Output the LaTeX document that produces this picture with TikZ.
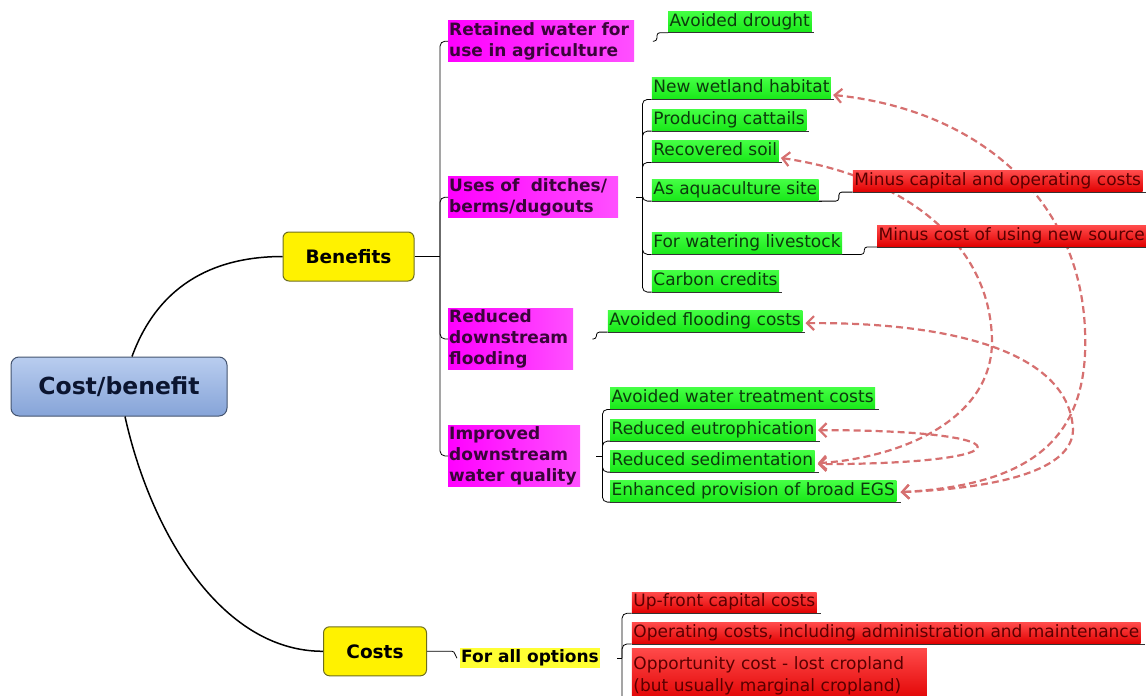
\documentclass[tikz,border=0pt]{standalone}
\usepackage{fontspec}
\setmainfont{DejaVu Sans}
\usetikzlibrary{arrows.meta,calc}
\definecolor{gtext}{HTML}{0C3B0C}
\definecolor{gtop}{HTML}{44FF44}
\definecolor{gbot}{HTML}{18E818}
\definecolor{mtext}{HTML}{3A053A}
\definecolor{mleft}{HTML}{FF00FF}
\definecolor{mright}{HTML}{FF50FF}
\definecolor{rtext}{HTML}{5A0000}
\definecolor{rtop}{HTML}{FF4A4A}
\definecolor{rmid}{HTML}{FF0808}
\definecolor{rbot}{HTML}{E00000}
\definecolor{ybord}{HTML}{6E6E20}
\definecolor{rootbord}{HTML}{44546F}
\definecolor{roottop}{HTML}{B9CDEF}
\definecolor{rootbot}{HTML}{86A4D8}
\definecolor{roottext}{HTML}{0B1530}
\definecolor{relc}{RGB}{214,112,112}
\definecolor{ulc}{HTML}{333333}
\pgfdeclarelayer{bg}
\pgfsetlayers{bg,main}
\tikzset{
  conn/.style={draw=black, line width=0.8pt},
  main/.style={draw=black, line width=1.5pt},
  uline/.style={draw=ulc, line width=0.8pt},
  rootbox/.style={draw=rootbord, line width=1pt, rounded corners=8pt, top color=roottop, bottom color=rootbot,
    minimum width=216pt, minimum height=59pt, text=roottext, font=\bfseries\fontsize{23.5}{26}\selectfont},
  ybox/.style={draw=ybord, line width=1pt, rounded corners=6pt, fill=yellow, text=black,
    font=\bfseries\fontsize{18.5}{21}\selectfont},
  yhl/.style={anchor=north west, fill={rgb,255:red,255;green,255;blue,51}, text=black, inner xsep=1pt, inner ysep=0pt,
    minimum height=20pt, text height=12.9pt, text depth=4.1pt, font=\bfseries\fontsize{17}{20}\selectfont},
  mbox/.style={anchor=north west, align=left, left color=mleft, right color=mright, text=mtext,
    inner xsep=1pt, inner ysep=1.5pt, font=\bfseries\fontsize{17}{21}\selectfont},
  gbox/.style={anchor=north west, top color=gtop, bottom color=gbot, text=gtext, inner xsep=1.5pt, inner ysep=0pt,
    minimum height=21.5pt, text height=12.9pt, text depth=4.1pt, font=\fontsize{17}{20}\selectfont},
  rbase/.style={anchor=north west, top color=rtop, middle color=rmid, bottom color=rbot, text=rtext, inner xsep=1.5pt},
  rbox/.style={rbase, inner ysep=0pt, minimum height=21pt, text height=12.9pt, text depth=4.1pt, font=\fontsize{17}{20}\selectfont},
  rel/.style={draw=relc, line width=2.2pt, dash pattern=on 7pt off 4pt,
    {Straight Barb[length=7pt,width=14pt]}-{Straight Barb[length=7pt,width=14pt]}},
}
\begin{document}
\begin{tikzpicture}[x=1pt,y=-1pt]
\useasboundingbox (0,0) rectangle (1146,696);
\clip (0,0) rectangle (1146,696);

% central and main branches
\node[rootbox] (root) at (119,386.5) {Cost/benefit};
\node[ybox, minimum width=131pt, minimum height=49pt] (ben) at (348.5,256.5) {Benefits};
\node[ybox, minimum width=103pt, minimum height=49pt] (costs) at (375,651.3) {Costs};
\draw[main] ([xshift=13pt]root.north) .. controls (160,280) and (220,256.5) .. (ben.west);
\draw[main] ([xshift=6pt]root.south) .. controls (150,530) and (220,651.3) .. (costs.west);

% benefits categories
\node[mbox, text width=184pt] (ret) at (448,20.7) {Retained water for\\use in agriculture};
\node[mbox, text width=168pt] (uses) at (448,176.7) {Uses of~ ditches/\\berms/dugouts};
\node[mbox, text width=123pt] (flood) at (448,308) {Reduced\\downstream\\flooding};
\node[mbox, text width=130pt] (imp) at (448,425) {Improved\\downstream\\water\ quality};

\coordinate (bk1) at (440,256.5);
\draw[conn] (ben.east) -- (bk1);
\foreach \c in {ret,uses,flood,imp}{
  \draw[conn, rounded corners=5pt] (bk1) |- (\c.west);
}

% retained water
\node[gbox] (drought) at (668,10.8) {Avoided drought};
\draw[uline] (drought.south west) -- ([xshift=3pt]drought.south east);
\draw[conn, rounded corners=3pt] ([xshift=18.5pt]ret.east) -- ++(4,0) |- (drought.south west);

% uses
\node[gbox] (wet) at (651.7,77.5) {New wetland habitat};
\node[gbox] (cat) at (651.7,109.2) {Producing cattails};
\node[gbox] (soil) at (651.7,140.5) {Recovered soil};
\node[gbox] (aqua) at (651.7,179.2) {As aquaculture site};
\node[gbox] (live) at (651.7,232.5) {For watering livestock};
\node[gbox] (carb) at (651.7,270.2) {Carbon credits};
\path (uses.east) ++(24,0) coordinate (bk2);
\draw[conn] ([xshift=18pt]uses.east) -- (bk2);
\foreach \c in {wet,cat,soil,aqua,live,carb}{
  \draw[uline] (\c.south west) -- ([xshift=3pt]\c.south east);
  \draw[conn, rounded corners=5pt] (bk2) |- (\c.south west);
}

\node[rbox] (mcap) at (852.7,170.7) {Minus capital and operating costs};
\node[rbox] (mcost) at (877,225.5) {Minus cost of using new source};
\draw[uline] (mcap.south west) -- ([xshift=6pt]mcap.south east);
\draw[uline] (mcost.south west) -- ([xshift=6pt]mcost.south east);
\draw[conn, rounded corners=3pt] (aqua.south east) -- ++(20,0) |- (mcap.south west);
\draw[conn, rounded corners=3pt] (live.south east) -- ++(22,0) |- (mcost.south west);

% flooding
\node[gbox] (afc) at (607.7,310.2) {Avoided flooding costs};
\draw[uline] (afc.south west) -- ([xshift=3pt]afc.south east);
\draw[conn, rounded corners=3pt] ([xshift=19pt]flood.east) -- ++(4,0) |- (afc.south west);

% water quality
\node[gbox] (awt) at (610,387.5) {Avoided water treatment costs};
\node[gbox] (eut) at (610,419.2) {Reduced eutrophication};
\node[gbox] (sed) at (610,450.2) {Reduced sedimentation};
\node[gbox] (egs) at (610,480.2) {Enhanced provision of broad EGS};
\path (imp.east) ++(22,0) coordinate (bk3);
\draw[conn] ([xshift=16pt]imp.east) -- (bk3);
\foreach \c in {awt,eut,sed,egs}{
  \draw[uline] (\c.south west) -- ([xshift=4pt]\c.south east);
  \draw[conn, rounded corners=5pt] (bk3) |- (\c.south west);
}

% costs
\node[yhl] (opts) at (460,648) {For all options};
\draw[conn] (costs.east) -- ++(25,0) to[out=0,in=135] ([xshift=-3pt]opts.west);
\node[rbox] (upf) at (631.7,591.8) {Up-front capital costs};
\node[rbox] (oper) at (631.7,622.5) {Operating costs, including administration and maintenance};
\node[rbase, align=left, text width=292pt, inner ysep=8pt,
  font=\fontsize{17}{22}\selectfont] (opp) at (631.7,648) {Opportunity cost - lost cropland\\(but usually marginal cropland)};
\path (opts.east) ++(22,0) coordinate (bk4);
\draw[conn] ([xshift=17pt]opts.east) -- (bk4);
\foreach \c in {upf,oper,opp}{
  \draw[uline] (\c.south west) -- ([xshift=4pt]\c.south east);
  \draw[conn, rounded corners=5pt] (bk4) |- (\c.south west);
}

% relationships
\coordinate (tw) at ($(wet.east)+(2,6.5)$);
\coordinate (ts) at ($(soil.east)+(2,6.5)$);
\coordinate (tf) at ($(afc.east)+(3,2)$);
\coordinate (teu) at ($(eut.east)+(2,0)$);
\coordinate (tsd) at ($(sed.east)+(3,2)$);
\coordinate (tsd2) at ($(sed.east)+(3,3)$);
\coordinate (te) at ($(egs.east)+(4,1)$);
\begin{pgfonlayer}{bg}
\draw[rel] (tw) .. controls (980,110) and (1080,200) .. (1085,330) .. controls (1090,440) and (1030,485) .. (te);
\draw[rel] (tf) .. controls (960,322) and (1070,355) .. (1073,430) .. controls (1072,470) and (1000,488) .. (te);
\draw[rel] (ts) .. controls (900,175) and (990,240) .. (992,340) .. controls (993,420) and (900,458) .. (tsd);
\draw[rel] (teu) .. controls (1030,430) and (1030,464) .. (tsd2);
\end{pgfonlayer}
\end{tikzpicture}
\end{document}
